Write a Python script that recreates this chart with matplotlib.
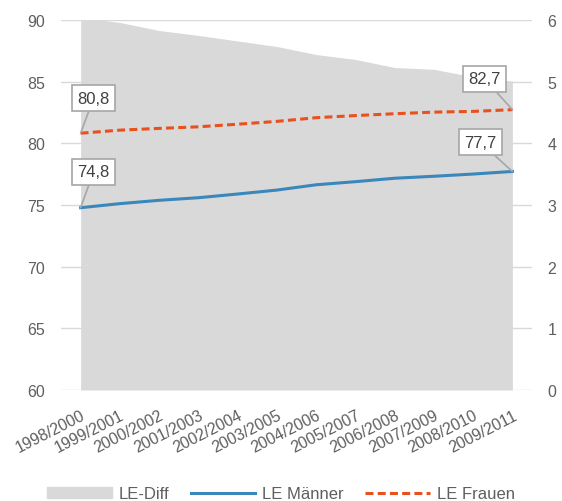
import numpy as np
import matplotlib.pyplot as plt
from matplotlib.patches import Patch
from matplotlib.lines import Line2D

# Lebenserwartung bei Geburt (Periodensterbetafeln)
perioden = ['1998/2000', '1999/2001', '2000/2002', '2001/2003', '2002/2004', '2003/2005',
            '2004/2006', '2005/2007', '2006/2008', '2007/2009', '2008/2010', '2009/2011']
le_maenner = [74.78, 75.11, 75.38, 75.59, 75.89, 76.21, 76.64, 76.89, 77.17, 77.33, 77.51, 77.72]
le_frauen = [80.82, 81.07, 81.21, 81.34, 81.55, 81.78, 82.08, 82.25, 82.40, 82.53, 82.59, 82.73]
le_diff = [6.04, 5.96, 5.83, 5.75, 5.66, 5.57, 5.44, 5.36, 5.23, 5.20, 5.08, 5.01]

grau = '#5f5f5f'
blau = '#3A87BC'
orange = '#E8501E'
strich = (0, (2.6, 1.4))
plt.rcParams['font.family'] = ['Liberation Sans', 'DejaVu Sans']

fig = plt.figure(figsize=(5.62, 5.02), dpi=100)
ax = fig.add_axes([61 / 562, 1 - 391 / 502, 471 / 562, 370 / 502])
ax2 = ax.twinx()

x = np.arange(len(perioden))

# Differenz als Flaeche auf der rechten Achse, hinter den Linien
ax2.fill_between(x, 0, le_diff, color='#D9D9D9', lw=0, zorder=1)
ax2.set_ylim(0, 6)
ax2.set_yticks(range(0, 7))
ax.set_zorder(ax2.get_zorder() + 1)
ax.patch.set_visible(False)

ax.plot(x, le_maenner, color=blau, lw=2.2, zorder=3)
ax.plot(x, le_frauen, color=orange, lw=2.2, ls=strich, zorder=3)

ax.set_xlim(-0.5, len(perioden) - 0.5)
ax.set_ylim(60, 90)
ax.set_yticks(range(60, 91, 5))
ax.yaxis.grid(True, color='#D9D9D9', lw=1)
ax.set_axisbelow(True)
ax.set_xticks(x)
ax.set_xticklabels(perioden, rotation=27, ha='right', va='top', rotation_mode='anchor')

for a in (ax, ax2):
    for s in a.spines.values():
        s.set_visible(False)
    a.tick_params(length=0, colors=grau, labelsize=11.5)
ax.tick_params(axis='y', pad=11.5)
ax2.tick_params(axis='y', pad=11)
ax.tick_params(axis='x', pad=12.5)

# Wertebeschriftungen am ersten und letzten Punkt
def beschriften(i, werte, dx, dy):
    ax.annotate(f'{werte[i]:.1f}'.replace('.', ','), xy=(x[i], werte[i]),
                xytext=(dx, dy), textcoords='offset pixels', ha='center', va='center',
                fontsize=12, color='#404040', zorder=5,
                bbox=dict(boxstyle='square,pad=0.33', fc='white', ec='#A6A6A6', lw=1.2),
                arrowprops=dict(arrowstyle='-', color='#A6A6A6', lw=1.2, shrinkA=0, shrinkB=0))

beschriften(0, le_frauen, 13, 35)
beschriften(0, le_maenner, 13, 36)
beschriften(11, le_frauen, -28, 31)
beschriften(11, le_maenner, -32, 29)

handles = [Patch(color='#D9D9D9', label='LE-Diff'),
           Line2D([], [], color=blau, lw=2.2, label='LE Männer'),
           Line2D([], [], color=orange, lw=2.2, ls=strich, label='LE Frauen')]
fig.legend(handles=handles, loc='center', bbox_to_anchor=(0.5, 1 - 495 / 502), ncol=3,
           frameon=False, fontsize=12, labelcolor=grau, handlelength=3.85, handleheight=0.6,
           columnspacing=1.3, handletextpad=0.42, borderpad=0)

fig.savefig('out.png', dpi=100)
